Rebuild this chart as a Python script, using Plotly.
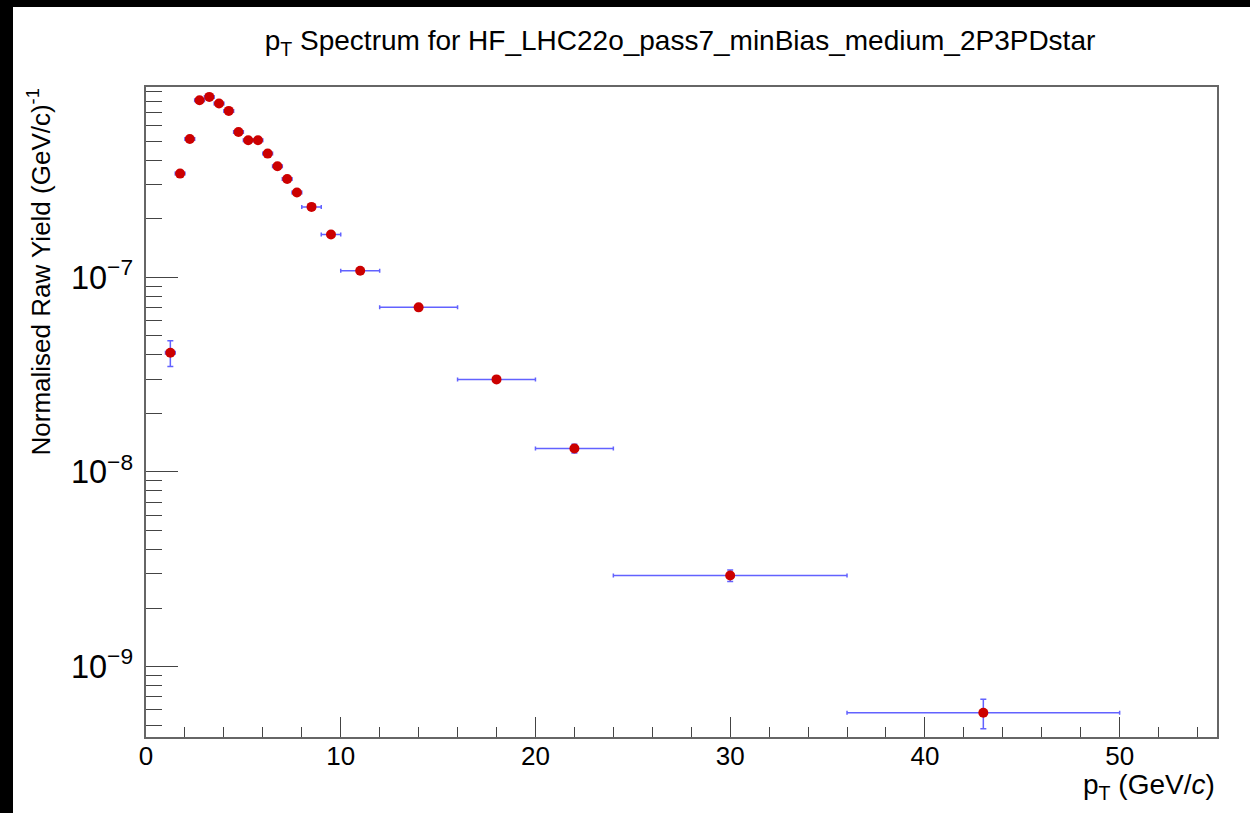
import numpy as np
import plotly.graph_objects as go

# ---- data ----
bin_low = [1.0, 1.5, 2.0, 2.5, 3.0, 3.5, 4.0, 4.5, 5.0, 5.5, 6.0, 6.5, 7.0, 7.5,
           8.0, 9.0, 10.0, 12.0, 16.0, 20.0, 24.0, 36.0]
bin_high = [1.5, 2.0, 2.5, 3.0, 3.5, 4.0, 4.5, 5.0, 5.5, 6.0, 6.5, 7.0, 7.5, 8.0,
            9.0, 10.0, 12.0, 16.0, 20.0, 24.0, 36.0, 50.0]
pt_center = [1.25, 1.75, 2.25, 2.75, 3.25, 3.75, 4.25, 4.75, 5.25, 5.75, 6.25, 6.75,
             7.25, 7.75, 8.5, 9.5, 11.0, 14.0, 18.0, 22.0, 30.0, 43.0]
yield_vals = [4.1e-8, 3.41e-7, 5.14e-7, 8.13e-7, 8.45e-7, 7.82e-7, 7.16e-7, 5.58e-7,
              5.06e-7, 5.06e-7, 4.32e-7, 3.72e-7, 3.20e-7, 2.73e-7, 2.30e-7, 1.66e-7,
              1.08e-7, 7.01e-8, 2.99e-8, 1.32e-8, 2.94e-9, 5.8e-10]
yield_err = [0.62e-8, 0.12e-7, 0.15e-7, 0.2e-7, 0.2e-7, 0.18e-7, 0.15e-7, 0.12e-7,
             0.11e-7, 0.11e-7, 0.09e-7, 0.08e-7, 0.07e-7, 0.06e-7, 0.05e-7, 0.035e-7,
             0.025e-7, 0.15e-8, 0.07e-8, 0.07e-8, 0.2e-9, 1.0e-10]

title_text = "p<sub>T</sub> Spectrum for HF_LHC22o_pass7_minBias_medium_2P3PDstar"
x_title = "p<sub>T</sub> (GeV/<i>c</i>)"
y_title = "Normalised Raw Yield (GeV/c)<sup>-1</sup>"

x_err = [(h - l) / 2 for l, h in zip(bin_low, bin_high)]

FONT = "Liberation Sans, Arial, Helvetica, sans-serif"

fig = go.Figure()
fig.add_trace(go.Scatter(
    x=pt_center, y=yield_vals, mode="markers",
    marker=dict(color="#cc0000", size=10, line=dict(width=0)),
    error_x=dict(type="data", array=x_err, color="rgba(70,70,255,0.85)",
                 thickness=1.5, width=2),
    error_y=dict(type="data", array=yield_err, color="rgba(70,70,255,0.85)",
                 thickness=1.5, width=3),
    showlegend=False,
))

L, R, T, B = 146, 33, 87, 76
W, H = 1250, 813
pw, ph = W - L - R, H - T - B

fig.update_layout(
    width=W, height=H,
    margin=dict(l=L, r=R, t=T, b=B),
    paper_bgcolor="white", plot_bgcolor="white",
    font=dict(family=FONT, color="black"),
    title=dict(text=title_text, x=680 / W, xref="container", xanchor="center",
               y=1 - 40 / H, yref="container", yanchor="middle",
               font=dict(size=28, family=FONT, color="black")),
    xaxis=dict(range=[0, 55], tick0=0, dtick=10, ticks="inside", ticklen=20,
               tickwidth=1.2, tickcolor="#444", showgrid=False, zeroline=False,
               showline=True, linecolor="#666", linewidth=1.5, mirror=True,
               tickfont=dict(size=26, family=FONT, color="black"),
               ticklabelstandoff=-5,
               minor=dict(ticks="inside", ticklen=10, dtick=2, tickcolor="#444",
                          tickwidth=1.2, showgrid=False)),
    yaxis=dict(type="log", range=[np.log10(4.35e-10), np.log10(9.5e-7)],
               dtick=1, exponentformat="power", ticks="inside", ticklen=32,
               tickwidth=1.2, tickcolor="#444", showgrid=False, zeroline=False,
               showline=True, linecolor="#666", linewidth=1.5, mirror=True,
               tickfont=dict(size=26, family=FONT, color="black"),
               ticklabelstandoff=6,
               minor=dict(ticks="inside", ticklen=16, dtick="D1", tickcolor="#444",
                          tickwidth=1.2, showgrid=False)),
    shapes=[
        dict(type="rect", xref="paper", yref="paper",
             x0=(0 - L) / pw, x1=(13 - L) / pw, y0=-B / ph, y1=1 + T / ph,
             fillcolor="black", line=dict(width=0), layer="above"),
        dict(type="rect", xref="paper", yref="paper",
             x0=(0 - L) / pw, x1=(W - L) / pw, y0=1 + (T - 7) / ph, y1=1 + T / ph,
             fillcolor="black", line=dict(width=0), layer="above"),
    ],
    annotations=[
        dict(text=y_title, xref="paper", yref="paper", x=(40 - L) / pw, y=1.0,
             xanchor="center", yanchor="top", textangle=-90, showarrow=False,
             font=dict(size=26, family=FONT, color="black")),
        dict(text=x_title, xref="paper", yref="paper", x=1.0, y=(737 - 786) / ph,
             xanchor="right", yanchor="middle", showarrow=False,
             font=dict(size=28, family=FONT, color="black")),
    ],
)

fig.write_html("out.html")
